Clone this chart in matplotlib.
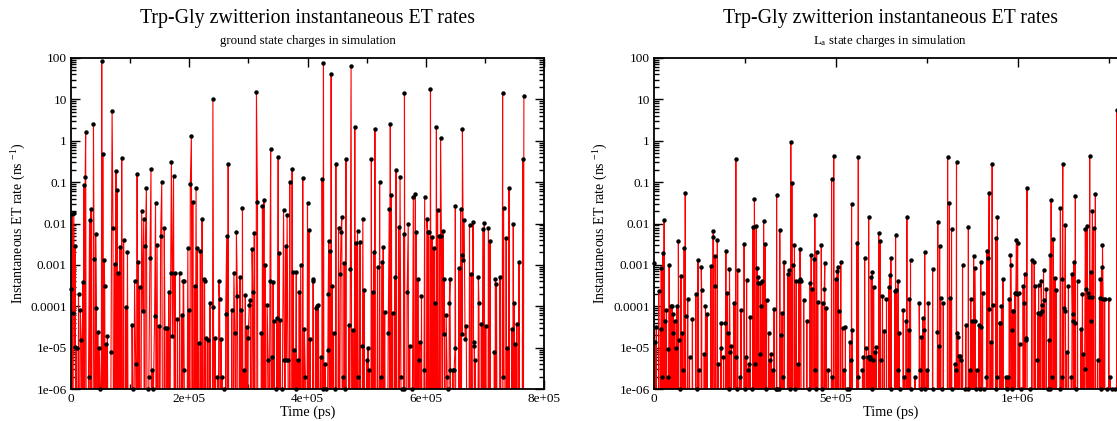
import numpy as np
import matplotlib
matplotlib.use("Agg")
import matplotlib.pyplot as plt
from matplotlib.ticker import MultipleLocator, FuncFormatter, LogLocator, NullFormatter, FixedLocator

# ---------------------------------------------------------------------------
# Instantaneous ET rates (ns^-1) sampled along the trajectory.
# Times are in ns; samples whose rate is below 1e-6 ns^-1 lie under the axis.
# ---------------------------------------------------------------------------

# ground-state charges run
gs_t = [24.8, 38, 52, 69.5, 203.6, 240, 313.6, 427, 440, 473.7, 480, 514, 540, 564, 608, 618, 625, 662, 730, 766,
        2.4, 4.8, 7, 21.7, 24, 31.4, 33.8, 39, 41.7, 53.8, 56, 71, 73.7, 76, 78, 80, 82.8, 85.8, 89, 95.5,
        111.8, 114, 119.6, 123, 125.7, 127.5, 133.5, 135.3, 143, 145.6, 151.6, 153.5, 157.7, 168.6, 169.8, 173.4,
        175.8, 183.7, 189.7, 197.6, 201.8, 206, 211.5, 213.9, 218.7, 221.7, 226, 250, 263.4, 265.8, 275.5, 279.7,
        285.8, 290, 306.3, 310, 315.4, 323.8, 326.3, 328, 337.7, 350.4, 352, 359.5, 363, 365.5, 370, 374, 375.8,
        381, 388.5, 392, 400, 402.4, 410, 424.7, 436, 438, 448, 452.5, 455.5, 456.8, 458, 462, 465, 472.5, 482,
        484.6, 488.8, 493.6, 508, 511.8, 518.4, 522, 526.2, 528, 538.3, 542, 548, 549.8, 554, 556.5, 562.6, 570.4,
        579, 582.4, 584.2, 586.7, 598.2, 601.8, 603.3, 604.8, 610.8, 613.9, 620, 623, 626.5, 629, 631.4, 641, 650,
        656, 659, 661, 663.5, 665, 674, 677, 680, 689, 696.5, 699, 706, 708.7, 717.8, 725.6, 731.7, 736, 740.7,
        748, 757.7, 764,
        0, 3.6, 6.2, 9.5, 12.7, 15.7, 17.5, 20, 29.6, 42.9, 45.3, 47.7, 49.5, 57, 59, 61.6, 67.7, 93, 103.3,
        104.5, 107.5, 109.4, 116, 121.4, 130, 131.7, 137.7, 139.5, 141.4, 149.2, 158.9, 162.5, 165.5, 171.6, 180,
        187.3, 190.5, 191.5, 200, 209, 215.7, 225, 227.8, 231.4, 235, 241, 243.5, 247.7, 251.4, 253.8, 256, 259.5,
        261.6, 271.9, 277.3, 281.5, 287.6, 292.4, 294.8, 297.3, 299.7, 301.5, 303.3, 307.5, 322, 331.7, 333.5,
        336.5, 340, 341.8, 343.8, 346, 348, 354, 357.5, 361, 364.3, 367, 378, 379.8, 384, 386, 394.6, 396.4, 404.2,
        409, 413.9, 416, 418.5, 422, 426, 430, 432, 434.4, 435, 442, 444, 446, 459.8, 464, 470, 476.7, 485.8, 493,
        496, 500, 502.3, 504.5, 510, 524, 530.5, 536.5, 544, 558, 560, 563.8, 568.5, 572.8, 577.5, 588.6, 590.4,
        592.8, 597, 615.8, 630.2, 634.5, 636.2, 638, 639.8, 641.7, 645.5, 648, 649.5, 661.7, 666.5, 668.5, 680.8,
        682.4, 684, 690, 694, 701.5, 716, 719.6, 730.5, 738, 745.6, 749.8, 751.6, 754]
gs_rate = [1.6, 2.5, 85, 5.3, 1.3, 10, 15.5, 74, 41, 64, 2.2, 1.95, 2.6, 14, 17.8, 2.2, 1.15, 1.95, 14, 12.4,
           0.017, 0.018, 0.0028, 0.083, 0.135, 0.012, 0.022, 0.0014, 0.0056, 0.49, 0.0013, 0.008, 0.00104, 0.186,
           0.063, 0.00063, 0.0027, 0.38, 0.0039, 0.002,
           0.16, 0.0012, 0.02, 0.013, 0.0029, 0.073, 0.0015, 0.21, 0.031, 0.003, 0.0051, 0.1, 0.0077, 0.00065,
           0.31, 0.137,
           0.00065, 0.00065, 0.0004, 0.0025, 0.088, 0.034, 0.073, 0.0025, 0.0022, 0.013, 0.0004, 0.0004, 0.005,
           0.27, 0.00065, 0.0062,
           0.0005, 0.024, 0.0024, 0.0058, 0.034, 0.026, 0.037, 0.001, 0.63, 0.41, 0.0019, 0.021, 0.0029, 0.016,
           0.1, 0.21, 0.00066,
           0.00066, 0.001, 0.125, 0.031, 0.0069, 0.0004, 0.116, 0.0038, 0.0022, 0.27, 0.0078, 0.0006, 0.0064,
           0.0145, 0.0011, 0.37, 0.0008, 0.0033,
           0.0066, 0.0036, 0.013, 0.37, 0.0021, 0.0009, 0.1, 0.0012, 0.0027, 0.022, 0.05, 0.0005, 0.2, 0.0081,
           0.13, 0.0056, 0.01,
           0.043, 0.053, 0.0062, 0.00046, 0.043, 0.013, 0.0064, 0.0064, 0.0047, 0.0026, 0.021, 0.005, 0.005,
           0.0065, 0.00046, 0.00045, 0.026,
           0.00085, 0.022, 0.0017, 0.0013, 0.012, 0.0094, 0.0006, 0.011, 0.0005, 0.0073, 0.0105, 0.0077, 0.0038,
           0.00046, 0.0005, 0.024, 0.0044, 0.073,
           0.0096, 0.0012, 0.37,
           2.6e-4, 6.9e-5, 1.05e-5, 1e-5, 2e-4, 8.3e-5, 1.5e-5, 3.9e-4, 1.9e-6, 9.1e-5, 2.4e-5, 1e-5, 1e-6,
           3.1e-4, 1.2e-5, 1.9e-5, 8e-6, 9.4e-5, 3.5e-5,
           1e-6, 4e-4, 4e-6, 3e-4, 7.5e-5, 1e-6, 2e-6, 2.9e-6, 1e-6, 5.8e-5, 3.4e-5, 3e-5, 3e-5, 2.2e-4, 1.9e-5,
           4.9e-5,
           6.2e-5, 4e-4, 2.9e-6, 8.3e-5, 3.1e-4, 1.3e-5, 4.5e-4, 1.7e-5, 1.5e-5, 1.2e-4, 9.5e-5, 1.7e-5, 2e-6,
           1.5e-4, 1.6e-5, 2e-6, 1e-6,
           6.5e-5, 8.3e-5, 2.2e-5, 1.8e-4, 8.3e-5, 2.9e-6, 1.9e-4, 3.2e-5, 1.7e-5, 1.1e-4, 1.4e-4, 2.2e-4,
           2.2e-5, 1.1e-4, 5e-6,
           4e-4, 6e-6, 3.9e-4, 4.3e-5, 1e-6, 5.2e-5, 4.7e-5, 1e-6, 5e-6, 5e-6, 5e-6, 9e-6, 1e-6, 5e-6, 2.2e-4,
           2.8e-5, 2e-6, 1.6e-5,
           4.5e-4, 9.1e-5, 1e-4, 1.1e-4, 6e-6, 1e-6, 4e-6, 1e-6, 9e-6, 2e-4, 3.1e-4, 2.3e-5, 1e-6, 2e-6, 1e-6,
           3.5e-5, 2.7e-5, 2e-6, 1.1e-5,
           2.5e-4, 5e-6, 1e-5, 2.9e-6, 2.2e-4, 2e-6, 7.2e-5, 2.2e-5, 6.9e-5, 2e-6, 1e-6, 1e-6, 2.2e-4, 1.1e-5,
           1e-6, 5e-6, 1.4e-5,
           1.8e-4, 2.9e-6, 1.2e-4, 2.1e-5, 6.2e-5, 2e-6, 1e-6, 1.2e-4, 2.9e-6, 2.9e-6, 2.9e-6, 9.8e-6, 2.1e-5,
           1.6e-5, 3.4e-5, 1.4e-5,
           1.1e-5, 5e-6, 1.2e-4, 3.7e-5, 3.4e-5, 8e-6, 3.4e-4, 2e-6, 1e-5, 2.8e-5, 1.2e-4, 1.2e-5, 3.8e-5]

# L_a-state charges run
la_t = [0, 19.9, 24, 27.8, 41.6, 67, 74, 82.8, 85.8, 121, 130, 156.4, 161.5, 163.5, 168, 174, 197.6, 207.5,
        225, 230, 247.6, 254.5, 272, 276, 281, 284, 285.8, 301.3, 305, 337, 345.7, 357.6, 367.3, 371, 376, 379,
        381, 386, 401, 403.6, 432, 440, 442, 447, 459.7, 469.4, 488, 494, 499, 503.5, 505.6, 513.4, 543, 557.6,
        561.5, 579, 590, 597, 600, 617.6, 621.6, 648, 651, 664, 671, 695, 705, 744, 765.7, 780, 785, 807, 812,
        817.7, 831.4, 848, 864, 878.5, 881.5, 898, 915, 921, 918.5, 929.4, 939.3, 944, 959, 979.6, 981.5, 996,
        999.5, 1019, 1025, 1038.4, 1045, 1064, 1070.6, 1089, 1091.5, 1097, 1102, 1117, 1122, 1123.5, 1130.5,
        1149, 1154, 1158, 1164, 1185.5, 1190, 1197.5, 1200, 1205, 1208, 1213, 1227, 1230, 1232.6, 1272,
        4, 6.3, 13, 18, 22.5, 31, 34, 38, 39.6, 45.5, 49.5, 52.4, 53.4, 57.2, 60, 63, 68, 72, 77, 79, 86.7, 92.6,
        97.6, 105.5, 115, 119, 123, 131, 138, 141.5, 145.6, 169, 177, 183, 185, 191, 196.5, 201.6, 204.5, 206.3,
        209, 213, 220, 224, 229, 236, 239, 249, 251.5, 258.6, 260.5, 264.5, 270, 277, 287, 290, 292, 294.6,
        297.7, 306.5, 309.3, 315, 319.4, 322, 326, 330, 335, 339, 343.5, 348.6, 352, 355, 374, 387.5, 391, 395.6,
        398.5, 402.5, 411.5, 420, 427, 429, 434, 443, 445, 450, 461.5, 463.5, 468, 473, 479, 490, 507.6, 518.4,
        521.4, 526, 531, 536, 538, 541, 545, 560, 573, 575.6, 584, 587, 591, 593, 595, 598.5, 601.5, 603.6,
        607.7, 611, 623, 628, 633, 639, 646, 652.5, 661.5, 665.6, 669.5, 673.4, 676.5, 685, 688, 693, 698, 699.8,
        702, 707, 717.5, 729, 730.5, 733, 735, 739, 742, 745.5, 750, 754, 768, 779, 782, 788, 792, 795, 814.7,
        820, 826.4, 829, 833, 835, 837, 840, 845, 854, 857, 862, 868.6, 870.6, 874.4, 883, 885.5, 887, 893,
        896.5, 899.5, 903, 907, 913.5, 920, 925.5, 931, 941, 942.5, 950, 952, 955, 967.6, 971, 972.5, 976.5, 983,
        984.5, 985.6, 988, 992.3, 994.5, 997.5, 1002, 1005, 1009, 1014.6, 1017.5, 1021.6, 1023.5, 1033, 1048,
        1054, 1055.3, 1057, 1060, 1062, 1065.5, 1067.5, 1073, 1078, 1083, 1085, 1087.5, 1094, 1106, 1115.5,
        1120.2, 1127, 1128.5, 1134, 1139, 1147, 1150.5, 1152, 1156, 1160, 1173.5, 1177.5, 1180, 1183.5, 1187,
        1192, 1195, 1202, 1203.5, 1219, 1224.5, 1228.5, 1234.5, 1238.5, 1244, 1250, 1254, 1258, 1268]
la_rate = [0.0011, 0.00085, 0.0019, 0.0123, 0.001, 0.0038, 0.00055, 0.0025, 0.055, 0.0013, 0.0009, 0.00095,
           0.0046, 0.0066, 0.0016, 0.004, 0.0022, 0.0008,
           0.36, 0.00077, 0.0032, 0.00042, 0.0081, 0.04, 0.0088, 0.00085, 0.0005, 0.0116, 0.0032, 0.05, 0.007,
           0.0012, 0.0006, 0.00077, 0.91, 0.096,
           0.001, 0.003, 0.0024, 0.0004, 0.0017, 0.0014, 0.016, 0.002, 0.0031, 0.0011, 0.116, 0.43, 0.00045,
           0.0007, 0.0009, 0.0012, 0.03, 0.0033,
           0.41, 0.0015, 0.014, 0.0005, 0.00067, 0.0058, 0.0038, 0.00058, 0.0015, 0.0052, 0.0004, 0.014, 0.0013,
           0.002, 0.0008, 0.0107, 0.0028, 0.41, 0.031,
           0.0073, 0.3, 0.001, 0.0081, 0.0016, 0.00085, 0.0012, 0.0022, 0.055, 0.0015, 0.28, 0.0044, 0.014,
           0.00046, 0.0017, 0.001, 0.004,
           0.0034, 0.0006, 0.073, 0.0013, 0.0012, 0.0004, 0.00075, 0.0017, 0.038, 0.0042, 0.00048, 0.024,
           0.00046, 0.28, 0.009,
           0.0006, 0.0012, 0.045, 0.0004, 0.0075, 0.0085, 0.43, 0.00067, 0.02, 0.0077, 0.052, 0.00045, 0.0009,
           0.0031, 5.5,
           1.4e-5, 3.2e-5, 2.3e-4, 2.8e-5, 2e-6, 4.5e-5, 8.3e-5, 2e-6, 9.4e-6, 1e-4, 1.04e-4, 6.5e-5, 2.3e-5,
           4.3e-5, 1e-5, 1e-4, 1.5e-5, 1e-6, 2.2e-5, 2.9e-6, 5.7e-5, 1.5e-4,
           6e-6, 4.9e-5, 2e-4, 1e-6, 2.9e-6, 2.5e-4, 7e-6, 1.04e-4, 6.5e-5, 3.1e-4, 4e-6, 1e-5, 3.9e-5, 6e-6,
           4e-5, 2.1e-4, 2.2e-5, 1e-6,
           7.9e-6, 1.1e-5, 1.2e-4, 6e-6, 1e-6, 2e-6, 8.3e-5, 1e-6, 6e-6, 2.9e-6, 4e-6, 5.4e-5, 1e-6, 4e-6, 3.6e-4,
           7e-6, 3.7e-4, 1e-4,
           4e-4, 1e-6, 1.4e-4, 2.3e-5, 5e-6, 6.9e-6, 2.9e-6, 8.6e-5, 1e-6, 1e-6, 1e-6, 2e-5, 7e-5, 2e-6, 1e-6,
           1e-6, 4e-4, 4e-6,
           4e-4, 4.5e-4, 1.4e-4, 4.3e-5, 1e-6, 3.7e-4, 2.6e-4, 2.9e-6, 1e-6, 1.3e-4, 1e-6, 1.2e-4, 2.6e-4, 9.1e-5,
           2.9e-6, 2e-6, 7.5e-5, 3e-5,
           2.9e-6, 3.1e-5, 1e-6, 1e-6, 1.4e-5, 5e-6, 2.6e-5, 2e-6, 2.9e-6, 6e-6, 1e-5, 6e-6, 6e-6, 6e-6, 5.2e-6,
           1e-6, 5e-6, 3e-4,
           8e-6, 1.04e-5, 5e-6, 1.8e-4, 2.5e-5, 1.5e-4, 3e-4, 1e-6, 2.3e-4, 2.5e-4, 2.9e-6, 2.2e-5, 1e-6, 8.3e-5,
           2e-6, 4.5e-5, 2.9e-6, 2.7e-5,
           1.5e-4, 1e-6, 2e-6, 1.2e-4, 2.9e-6, 1e-6, 1.8e-5, 5.2e-5, 2.7e-5, 1e-6, 2.9e-6, 1.2e-4, 1e-6, 2.4e-5,
           1.1e-5, 1.6e-4, 1e-6, 1.2e-4, 1.6e-4,
           1e-6, 4e-6, 2.9e-6, 2.2e-5, 1.8e-5, 6.2e-6, 6.2e-6, 5e-6, 1e-6, 3.5e-5, 1e-6, 2.9e-6, 1.5e-4, 4.5e-5,
           4.3e-5, 1e-6, 2.9e-6, 3.5e-5,
           1e-6, 3.2e-5, 2.1e-4, 1e-6, 2e-6, 8.6e-5, 1.4e-5, 1.1e-4, 1e-6, 2e-6, 4e-5, 3.9e-5, 1.04e-4, 2e-6,
           1e-6, 2e-6, 1.5e-4, 1e-6,
           2.7e-5, 7.5e-5, 7.7e-5, 2.1e-4, 2.1e-4, 2e-4, 2.1e-4, 1.2e-5, 1e-6, 3.1e-4, 1.2e-4, 1.7e-5, 1.5e-5,
           1e-6, 3.1e-4,
           5e-6, 7e-5, 3.3e-4, 6.5e-5, 6.7e-5, 1.1e-4, 7.5e-5, 1.4e-4, 2.6e-4, 1e-6, 1.5e-5, 1e-6, 2e-6, 2.5e-4,
           1e-6,
           2e-6, 9.1e-5, 7.5e-5, 7.9e-6, 3.1e-4, 2e-6, 6.5e-5, 4.5e-5, 3.9e-5, 1e-6, 2.8e-5, 2e-4, 7e-6, 3e-6,
           2.6e-4,
           2.1e-4, 1.7e-4, 4.3e-5, 1.7e-4, 5e-6, 1.6e-4, 1e-6, 1.5e-4, 1.5e-4, 1e-6, 1.5e-4, 2e-6, 1e-6, 1e-6]

# trajectory frames are written every 1 ns
frame_step_ns = 1.0
gs_last_ns = 766
la_last_ns = 1275
below_axis_rate = 1e-9   # frames whose rate falls under the 1e-6 floor

panels = [
    dict(t=gs_t, r=gs_rate, last=gs_last_ns, xmax=8e5, major=2e5, minor=1e5,
         sub="ground state charges in simulation"),
    dict(t=la_t, r=la_rate, last=la_last_ns, xmax=1.3e6, major=5e5, minor=2.5e5,
         sub=r"L$_\mathrm{a}$ state charges in simulation"),
]

title = "Trp-Gly zwitterion instantaneous ET rates"
ylabel = r"Instantaneous ET rate (ns $^{-1}$)"
xlabel = "Time (ps)"

plt.rcParams.update({
    "font.family": ["Liberation Serif", "DejaVu Serif"],
    "mathtext.fontset": "custom",
    "mathtext.rm": "Liberation Serif",
    "mathtext.it": "Liberation Serif:italic",
    "mathtext.bf": "Liberation Serif:bold",
})

W, H = 1117, 421
fig = plt.figure(figsize=(W / 100, H / 100), dpi=100)


def px_rect(x0, y0, x1, y1):
    return [x0 / W, 1 - y1 / H, (x1 - x0) / W, (y1 - y0) / H]


axes_px = [(71, 58, 544, 389), (654, 58, 1127, 389)]
ylabel_x = [19, 601]


def xfmt(v, pos):
    if v == 0:
        return "0"
    return "%.0e" % v


for p, box, ylx in zip(panels, axes_px, ylabel_x):
    ax = fig.add_axes(px_rect(*box))

    t = np.asarray(p["t"], float)
    r = np.asarray(p["r"], float)
    # frames not listed above sit below the plotted range
    frames = np.arange(0, p["last"] + frame_step_ns, frame_step_ns)
    dist = np.min(np.abs(frames[:, None] - t[None, :]), axis=1)
    low = frames[dist > 0.6]
    all_t = np.concatenate([t, low])
    all_r = np.concatenate([r, np.full(low.size, below_axis_rate)])
    order = np.argsort(all_t)

    ax.plot(all_t[order] * 1000, all_r[order], color="#ff0000", lw=0.8, zorder=2)
    ax.plot(t * 1000, r, ls="none", marker="o", ms=3.2, color="black",
            markeredgewidth=0, zorder=3, clip_on=False)

    ax.set_yscale("log")
    ax.set_ylim(1e-6, 100)
    ax.set_xlim(0, p["xmax"])
    ax.yaxis.set_major_locator(FixedLocator([10.0 ** k for k in range(-6, 3)]))
    ax.yaxis.set_minor_locator(LogLocator(base=10, subs=np.arange(2, 10), numticks=20))
    ax.yaxis.set_major_formatter(FuncFormatter(lambda v, pos: "%g" % v))
    ax.yaxis.set_minor_formatter(NullFormatter())
    ax.xaxis.set_major_locator(MultipleLocator(p["major"]))
    ax.xaxis.set_minor_locator(MultipleLocator(p["minor"]))
    ax.xaxis.set_major_formatter(FuncFormatter(xfmt))

    ax.tick_params(which="both", direction="in", top=True, right=True,
                   labelsize=9.5, width=1.0, colors="black")
    ax.tick_params(which="major", length=6.5, pad=3)
    ax.tick_params(which="minor", length=3.5)
    for s in ax.spines.values():
        s.set_linewidth(1.3)

    cx = (box[0] + box[2]) / 2 / W
    fig.text(cx, 1 - 19 / H, title, ha="center", va="center", fontsize=14.3)
    fig.text(cx, 1 - 41 / H, p["sub"], ha="center", va="center", fontsize=9.3)
    fig.text(cx, 1 - 412 / H, xlabel, ha="center", va="center", fontsize=10.3)
    fig.text(ylx / W, 1 - (box[1] + box[3]) / 2 / H, ylabel, ha="center",
             va="center", rotation=90, fontsize=10)

fig.savefig("out.png", dpi=100)
